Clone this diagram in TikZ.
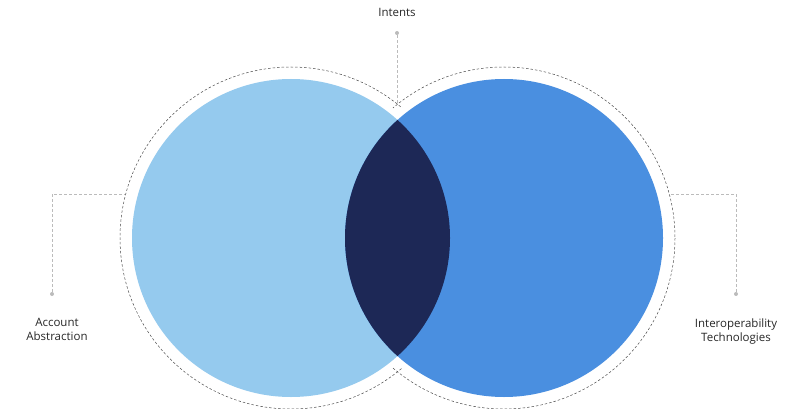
\documentclass[tikz,border=0pt]{standalone}
\usepackage{fontspec}
\setmainfont{Open Sans}
\definecolor{lblue}{HTML}{95CAEE}
\definecolor{dblue}{HTML}{4A8FE0}
\definecolor{navy}{HTML}{1D2856}
\definecolor{lead}{HTML}{BBBBBB}
\begin{document}
\begin{tikzpicture}[x=1pt,y=-1pt,
  leader/.style={draw=lead,dashed,line width=0.8pt, dash pattern=on 3pt off 2pt},
  ring/.style={draw=black!70,dashed,line width=0.5pt,dash pattern=on 2.5pt off 2pt},
  dotc/.style={circle,fill=lead,inner sep=0pt,minimum size=4pt},
  lab/.style={font=\fontsize{11.5}{14}\selectfont,text=black!85,align=center}]
\useasboundingbox (0,0) rectangle (797,409);
\draw[ring] (291,238) circle (171);
\draw[ring] (504,238) circle (171);
\fill[white] (291,238) circle (165);
\fill[white] (504,238) circle (165);
\fill[lblue] (291,238) circle (159);
\fill[dblue] (504,238) circle (159);
\begin{scope}
\clip (291,238) circle (159);
\fill[navy] (504,238) circle (159);
\end{scope}
\node[lab] (intents) at (397,12) {Intents};
\node[dotc] (d1) at (397,33) {};
\coordinate (e1) at (397,104);
\draw[leader] (d1) -- (e1);
\node[dotc] (d2) at (52,294) {};
\coordinate (e2) at (125,194);
\draw[leader] (d2) |- (e2);
\node[lab] (acc) at (57,329) {Account\\Abstraction};
\node[dotc] (d3) at (736,294) {};
\coordinate (e3) at (670,194);
\draw[leader] (d3) |- (e3);
\node[lab] (int) at (736,332) {Interoperability\\Technologies};
\end{tikzpicture}
\end{document}
